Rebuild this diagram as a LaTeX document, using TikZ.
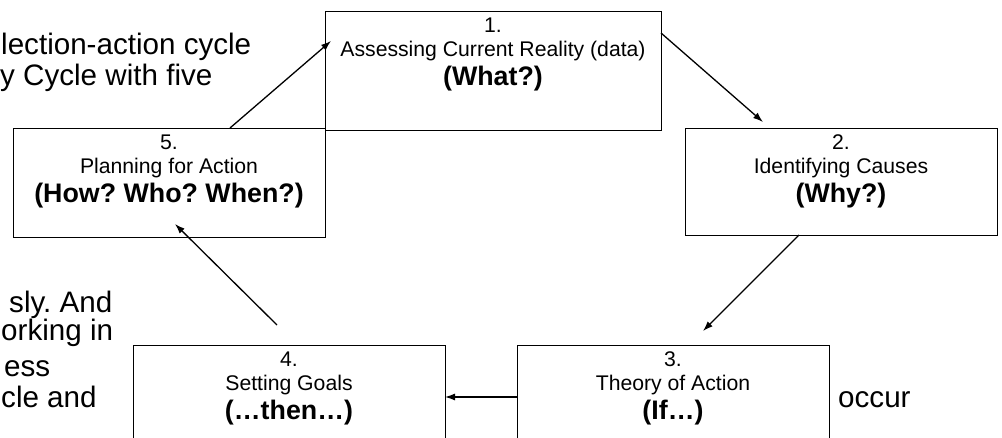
\documentclass[tikz,border=0pt]{standalone}
\usepackage{fontspec}
\setmainfont{Liberation Sans}
\usetikzlibrary{arrows.meta}
\frenchspacing
\begin{document}
\begin{tikzpicture}[x=1pt,y=-1pt,
  box/.style={draw=black,fill=white,line width=1.4pt,anchor=north west,inner sep=0pt},
  num/.style={anchor=base,inner sep=0pt,font=\fontsize{21.2}{24}\selectfont},
  bld/.style={anchor=base,inner sep=0pt,font=\fontsize{26.8}{30}\selectfont\bfseries},
  bg/.style={anchor=base west,inner sep=0pt,font=\fontsize{29.6}{31}\selectfont},
  arr/.style={-{Latex[length=10pt,width=7pt]},line width=1.3pt}]
\useasboundingbox (0,0) rectangle (1002,438);
\clip (0,0) rectangle (1002,438);
\fill[white] (0,0) rectangle (1002,438);
% background paragraph fragments
\node[bg] (t1) at (1,55) {lection-action cycle};
\node[bg] (t2) at (0,86) {y Cycle with five};
\node[bg] (t3) at (9,313) {sly. And};
\node[bg] (t4) at (1,341) {orking in};
\node[bg] (t5) at (4,377) {ess};
\node[bg] (t6) at (1,407) {cle and};
\node[bg] (t7) at (838,408) {occur};
% boxes
\node[box,minimum width=312pt,minimum height=109pt] (b5) at (13,128) {};
\node[box,minimum width=336pt,minimum height=119pt] (b1) at (325,11) {};
\node[box,minimum width=312pt,minimum height=107pt] (b2) at (685,128) {};
\node[box,minimum width=312pt,minimum height=110pt] (b4) at (133,345) {};
\node[box,minimum width=312pt,minimum height=110pt] (b3) at (517,345) {};
% box texts
\node[num] (l1a) at (493,33) {1.};
\node[num] (l1b) at (493,57) {Assessing Current Reality (data)};
\node[bld] (l1c) at (493,86) {(What?)};
\node[num] (l2a) at (841,150) {2.};
\node[num] (l2b) at (841,174) {Identifying Causes};
\node[bld] (l2c) at (841,203) {(Why?)};
\node[num] (l3a) at (673,367) {3.};
\node[num] (l3b) at (673,391) {Theory of Action};
\node[bld] (l3c) at (673,420) {(If…)};
\node[num] (l4a) at (289,367) {4.};
\node[num] (l4b) at (289,391) {Setting Goals};
\node[bld] (l4c) at (289,420) {(…then…)};
\node[num] (l5a) at (169,150) {5.};
\node[num] (l5b) at (169,174) {Planning for Action};
\node[bld] (l5c) at (169,203) {(How? Who? When?)};
% arrow end points
\coordinate (a1s) at (661,33);  \coordinate (a1e) at (763,122);
\coordinate (a2s) at (799,235); \coordinate (a2e) at (703,331);
\coordinate (a3s) at (517,397); \coordinate (a3e) at (445,397);
\coordinate (a4s) at (277,325); \coordinate (a4e) at (175,224);
\coordinate (a5s) at (230,128); \coordinate (a5e) at (331,41);
\draw[arr] (a1s) -- (a1e);
\draw[arr] (a2s) -- (a2e);
\draw[arr] (a3s) -- (a3e);
\draw[arr] (a4s) -- (a4e);
\draw[arr] (a5s) -- (a5e);
\end{tikzpicture}
\end{document}
